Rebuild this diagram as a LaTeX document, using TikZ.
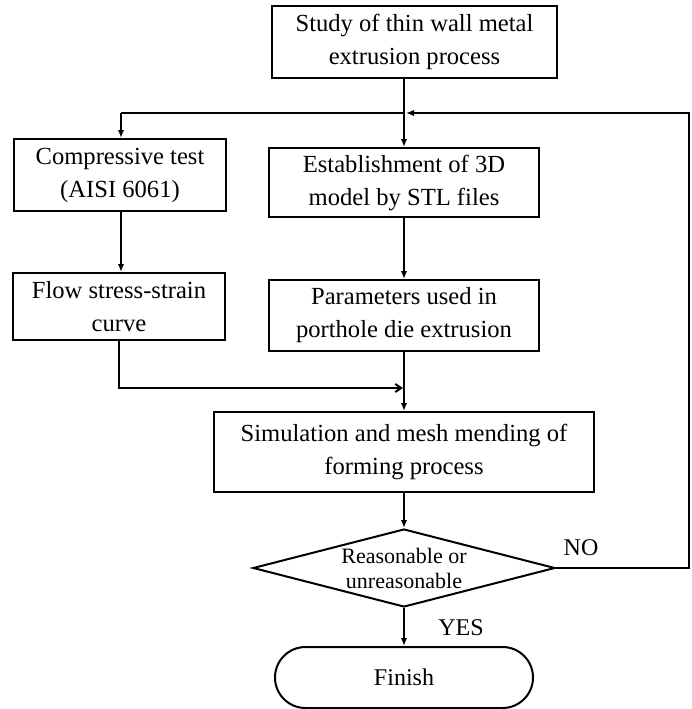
\documentclass[tikz,border=0pt]{standalone}
\usepackage{fontspec}
\setmainfont{Liberation Serif}
\usetikzlibrary{shapes.geometric,shapes.misc,arrows.meta}
\begin{document}
\begin{tikzpicture}[x=1pt,y=-1pt,
  line width=2pt,
  box/.style={draw,rectangle,align=center,inner sep=0pt,font=\fontsize{24.6}{33}\selectfont},
  arr/.style={-{Latex[length=8pt,width=6.5pt]}},
  barb/.style={-{Straight Barb[length=6pt,width=8pt]}},
  lbl/.style={inner sep=0pt,font=\fontsize{24}{28}\selectfont}]
\useasboundingbox (0,0) rectangle (691,709);
\node[box,minimum width=285pt,minimum height=72pt] (top) at (414.5,42) {Study of thin wall metal\\extrusion process};
\node[box,minimum width=212pt,minimum height=72pt] (comp) at (120,175) {Compressive test\\(AISI 6061)};
\node[box,minimum width=270pt,minimum height=69pt] (est) at (404,182.5) {Establishment of 3D\\model by STL files};
\node[box,minimum width=212pt,minimum height=67pt] (flow) at (119,306.5) {Flow stress-strain\\curve};
\node[box,minimum width=270pt,minimum height=71pt] (param) at (404,315.5) {Parameters used in\\porthole die extrusion};
\node[box,minimum width=380pt,minimum height=80pt] (sim) at (404,452) {Simulation and mesh mending of\\forming process};
\node[draw,diamond,aspect=3.87,minimum width=302pt,minimum height=78pt,inner sep=-5pt,align=center,font=\fontsize{22}{25}\selectfont] (dia) at (404,568) {Reasonable or\\unreasonable};
\node[draw,rounded rectangle,minimum width=258pt,minimum height=61pt,inner sep=0pt,font=\fontsize{24}{28}\selectfont] (fin) at (404,677.5) {Finish};
\node[lbl] (no) at (581,548) {NO};
\node[lbl] (yes) at (461,628) {YES};
\coordinate (j) at (404,113);
\coordinate (jl) at (121,113);
\coordinate (jr) at (689,113);
\coordinate (dr) at (689,568);
\coordinate (m) at (404,388);
\draw[arr] (top.south -| est.north) -- (est.north);
\draw (j) -- (jl);
\draw[arr] (jl) -- (jl |- comp.north);
\draw[arr] (dia.east) -- (dr) -- (jr) -- ([xshift=2pt]j);
\draw[arr] (comp.south -| jl) -- (jl |- flow.north);
\draw[arr] (est.south) -- (param.north);
\draw[barb] (flow.south) -- (flow.south |- m) -- ([xshift=-1pt]m);
\draw[arr] (param.south) -- (sim.north);
\draw[arr] (sim.south) -- (dia.north);
\draw[arr] (dia.south) -- (fin.north);
\end{tikzpicture}
\end{document}
